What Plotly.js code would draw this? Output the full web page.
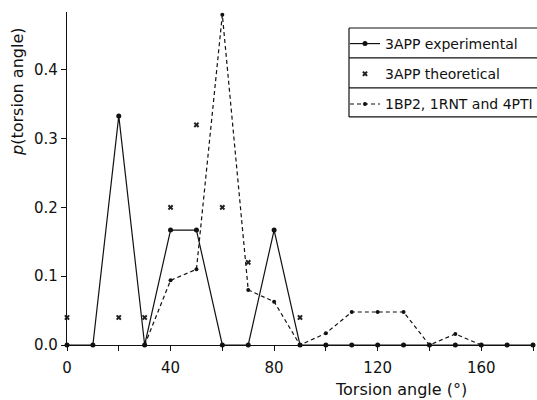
<!DOCTYPE html>
<html><head><meta charset="utf-8">
<script src="https://cdn.plot.ly/plotly-3.0.1.min.js"></script>
<style>html,body{margin:0;padding:0;background:#fff}</style>
</head><body>
<div id="chart" style="width:537px;height:400px"></div>
<script>
const angles = [0,10,20,30,40,50,60,70,80,90,100,110,120,130,140,150,160,170,180];
const expValues = [0,0,0.333,0,0.167,0.167,0,0,0.167,0,0,0,0,0,0,0,0,0,0];
const theoAngles = [0,20,30,40,50,60,70,90];
const theoValues = [0.04,0.04,0.04,0.2,0.32,0.2,0.12,0.04];
const otherAngles = [30,40,50,60,70,80,90,100,110,120,130,140,150,160];
const otherValues = [0,0.094,0.11,0.48,0.08,0.063,0,0.017,0.048,0.048,0.048,0,0.016,0];
const names = ['3APP experimental','3APP theoretical','1BP2, 1RNT and 4PTI'];
const xTitle = 'Torsion angle (°)';
const yTitle = '<i>p</i>(torsion angle)';

const traces = [
  {x: angles, y: expValues, name: names[0], mode:'lines+markers', legendgroup:'a',
   line:{color:'#111', width:1.2}, marker:{symbol:'circle', size:5, color:'#111'}, cliponaxis:false},
  {x: theoAngles, y: theoValues, name: names[1], mode:'markers', legendgroup:'b',
   marker:{symbol:'x', size:5, color:'#222'}, cliponaxis:false},
  {x: otherAngles, y: otherValues, name: names[2], mode:'lines+markers', legendgroup:'c',
   line:{color:'#111', width:1.2, dash:'4px,3px'}, marker:{symbol:'circle', size:4, color:'#111'}, cliponaxis:false}
];
const font = {family:'"DejaVu Sans", "Liberation Sans", sans-serif', color:'#111'};
const ln = {color:'#111', width:1.2};
const bx = (349 - 67) / 466;
const layout = {
  width:537, height:400,
  margin:{l:67, r:4, t:12, b:55, autoexpand:false},
  paper_bgcolor:'#fff', plot_bgcolor:'#fff',
  font: Object.assign({size:15}, font),
  showlegend:true,
  legend:{x:(345 - 67) / 466, xanchor:'left', y:0.952, yanchor:'top', borderwidth:0,
    font:Object.assign({size:14}, font), tracegroupgap:9, itemwidth:30, bgcolor:'rgba(0,0,0,0)'},
  xaxis:{range:[0,180], dtick:40, tick0:0, showgrid:false, zeroline:false, showline:true,
    linecolor:'#111', linewidth:1.2, ticks:'outside', ticklen:5, tickcolor:'#111', ticklabelstandoff:4,
    minor:{dtick:20, ticks:'outside', ticklen:5, tickcolor:'#111'}},
  yaxis:{range:[0,0.484], dtick:0.1, tickformat:'.1f', showgrid:false, zeroline:false, showline:true,
    linecolor:'#111', linewidth:1.2, ticks:'outside', ticklen:5, tickcolor:'#111'},
  annotations:[
    {text:xTitle, xref:'paper', yref:'paper', x:0.717, y:-0.135, xanchor:'center', yanchor:'middle',
     showarrow:false, font:Object.assign({size:16}, font)},
    {text:yTitle, xref:'paper', yref:'paper', x:-0.105, y:0.76, xanchor:'center', yanchor:'middle',
     textangle:-90, showarrow:false, font:Object.assign({size:16}, font)}
  ],
  shapes:[
    {type:'line', xref:'paper', yref:'paper', x0:bx, x1:bx, y0:0.685, y1:0.952, line:ln},
    {type:'line', xref:'paper', yref:'paper', x0:bx, x1:1.02, y0:0.952, y1:0.952, line:ln},
    {type:'line', xref:'paper', yref:'paper', x0:bx, x1:1.02, y0:0.862, y1:0.862, line:ln},
    {type:'line', xref:'paper', yref:'paper', x0:bx, x1:1.02, y0:0.772, y1:0.772, line:ln},
    {type:'line', xref:'paper', yref:'paper', x0:bx, x1:1.02, y0:0.685, y1:0.685, line:ln}
  ]
};
Plotly.newPlot('chart', traces, layout, {displayModeBar:false, staticPlot:true});
</script>
</body></html>
